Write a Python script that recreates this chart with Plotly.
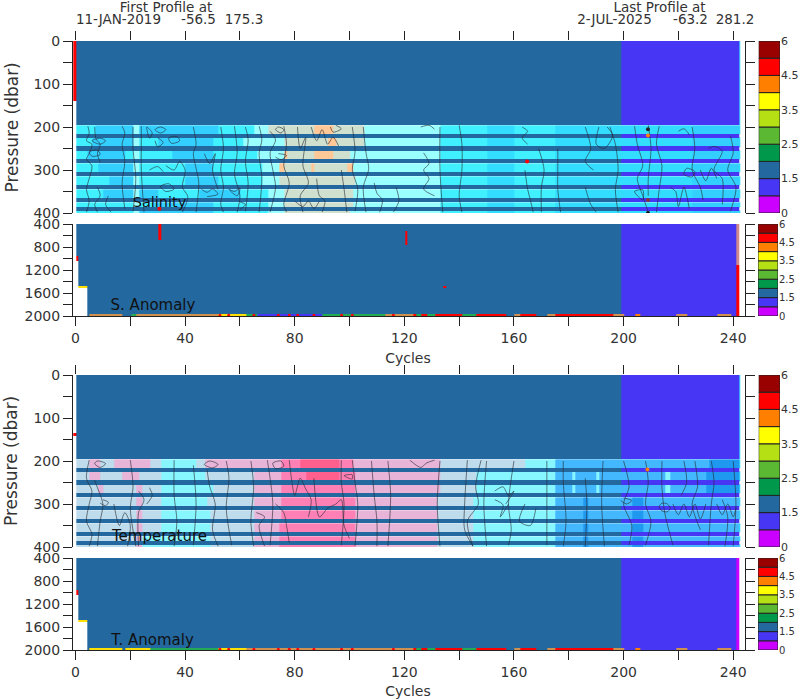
import numpy as np
import plotly.graph_objects as go

# ---------- data ----------
SCALE_COLORS = ["#cc00ff", "#4836f5", "#23689f", "#00994c", "#5ab832",
                "#b4e014", "#ffff00", "#ff8000", "#ff0000", "#990000"]
SCALE_LABELS = ["0", "1.5", "2.5", "3.5", "4.5", "6"]
X_TICKS = list(range(0, 241, 20))
X_LABELS = [str(v) if v % 40 == 0 else "" for v in X_TICKS]

FIELD_COLORS = {
    "B": "#23689f", "I": "#4836f5", "R": "#ff0000", "K": "#222222", "O": "#ff8000",
    "Y": "#ffe000", "G": "#22aa55", "T": "#d09050", "M": "#cc00ff", "W": "#d08a8a",
    "e": "#40f0ff", "a": "#33d0ff", "q": "#33ddff", "v": "#99ffff", "s": "#cfe0cf", "k": "#ffc896",
    "p": "#bedcec", "l": "#e8b4d8", "h": "#ff80b4", "d": "#ff5f8c", "c": "#88f6ff",
    "z": "#44b8ff", "b": "#1f98f0",
}

BAND_EDGES = [196, 216, 224, 246, 254, 276, 284, 306, 314, 336, 344, 366, 374, 386, 394, 400]
STRIPE_PRESSURES = [220, 250, 280, 310, 340, 370, 390]

SAL_RIGHT = [(133, "v"), (150, "e"), (160, "q"), (175, "e"), (199, "q"), (225, "q"), (243, "a")]
SAL_BANDS = [
    [(7, "e"), (21, "a"), (23, "v"), (52, "a"), (65, "e"), (70, "v"), (87, "s"), (94, "k"), (105, "s"), (118, "v")] + SAL_RIGHT,
    [(6, "e"), (21, "a"), (23, "v"), (30, "e"), (50, "a"), (61, "e"), (76, "v"), (92, "s"), (95, "k"), (105, "s"), (118, "v")] + SAL_RIGHT,
    [(4, "e"), (18, "a"), (21, "e"), (23, "v"), (35, "e"), (50, "a"), (66, "e"), (76, "v"), (77, "k"), (87, "s"), (94, "k"), (100, "s"), (118, "v")] + SAL_RIGHT,
    [(8, "e"), (21, "a"), (23, "v"), (40, "e"), (50, "a"), (68, "e"), (74, "v"), (76, "k"), (86, "s"), (87, "k"), (99, "s"), (101, "k"), (118, "v")] + SAL_RIGHT,
    [(12, "e"), (21, "a"), (23, "v"), (40, "e"), (52, "a"), (68, "e"), (74, "v"), (102, "s"), (118, "v")] + SAL_RIGHT,
    [(10, "e"), (21, "a"), (23, "v"), (30, "a"), (45, "e"), (60, "a"), (70, "e"), (76, "v"), (101, "s"), (118, "v")] + SAL_RIGHT,
    [(21, "e"), (23, "v"), (28, "e"), (50, "a"), (70, "e"), (76, "v"), (101, "s"), (118, "v")] + SAL_RIGHT,
    [(21, "e"), (23, "v"), (50, "a"), (70, "e"), (76, "v"), (100, "s"), (118, "v")] + SAL_RIGHT,
]

TMP_RIGHT_A = [(133, "l"), (146, "p"), (164, "p"), (175, "c"), (199, "z"), (231, "z"), (243, "b")]
TMP_RIGHT_B = [(133, "l"), (146, "p"), (175, "c"), (181, "z"), (182, "c"), (190, "z"), (191, "c"), (199, "z"), (215, "z"), (217, "c"), (230, "z"), (243, "b")]
TMP_RIGHT_C = [(132, "l"), (145, "p"), (175, "c"), (185, "z"), (187, "b"), (199, "z"), (203, "z"), (207, "b"), (243, "z")]
TMP_BANDS = [
    [(5, "p"), (9, "l"), (14, "p"), (27, "l"), (31, "p"), (44, "c"), (47, "p"), (75, "l"), (82, "h"), (96, "d"), (101, "h"), (118, "l")] + TMP_RIGHT_A,
    [(5, "p"), (9, "l"), (17, "p"), (23, "l"), (31, "p"), (47, "c"), (65, "p"), (75, "l"), (84, "h"), (96, "d"), (102, "h"), (118, "l")] + TMP_RIGHT_B,
    [(8, "p"), (10, "l"), (22, "p"), (24, "l"), (31, "p"), (50, "c"), (65, "p"), (75, "l"), (102, "h"), (118, "l")] + TMP_RIGHT_B,
    [(22, "p"), (24, "l"), (31, "p"), (48, "c"), (65, "p"), (75, "l"), (102, "h"), (118, "l")] + TMP_RIGHT_C,
    [(22, "p"), (24, "l"), (31, "p"), (49, "c"), (65, "p"), (75, "l"), (102, "h"), (118, "l")] + TMP_RIGHT_C,
    [(22, "p"), (24, "l"), (31, "p"), (49, "c"), (65, "p"), (74, "l"), (102, "h"), (118, "l")] + TMP_RIGHT_C,
    [(22, "p"), (24, "l"), (31, "c"), (49, "c"), (65, "p"), (74, "l"), (102, "h"), (118, "l")] + TMP_RIGHT_C,
    [(22, "p"), (24, "l"), (30, "c"), (49, "c"), (65, "p"), (74, "l"), (102, "h"), (118, "l")] + TMP_RIGHT_C,
]

SAL_CONTOURS = [
    [(4.5, 198), (5, 215), (4, 232), (6, 240), (5, 262), (4, 275), (6, 290), (5, 320), (4, 345), (5, 372), (4, 398)],
    [(7, 200), (7.5, 228), (9, 240), (8, 262), (9, 282)],
    [(8, 340), (9, 360), (7, 380), (8, 398)],
    [(6, 232), (9, 226), (11, 232), (9, 240), (6, 232)],
    [(5, 258), (8, 254), (9, 264), (6, 268), (5, 258)],
    [(12, 360), (11, 380), (13, 398)],
    [(17, 198), (18, 214), (17, 240), (18, 280), (17, 330), (18, 390)],
    [(21, 200), (21, 250), (22, 320), (21, 396)],
    [(24, 198), (24, 250), (24, 300), (25, 398)],
    [(26, 200), (28, 214), (27, 226), (26, 200)],
    [(30, 225), (32, 236), (30, 246), (29, 232)],
    [(31, 200), (33, 206), (31, 214), (29, 206), (31, 200)],
    [(27, 300), (30, 292), (32, 304)],
    [(33, 290), (36, 300), (38, 280), (40, 300), (39, 340), (41, 362), (39, 398)],
    [(34, 226), (37, 222), (38, 232), (35, 238), (34, 226)],
    [(31, 338), (34, 332), (36, 344), (33, 350), (31, 338)],
    [(43, 200), (44, 240), (43, 262), (44, 296), (45, 330), (44, 398)],
    [(47, 262), (49, 285), (51, 262), (50, 300), (52, 345)],
    [(46, 345), (48, 352), (50, 344), (52, 356), (48, 362)],
    [(53, 200), (54, 250), (53, 300), (54, 340), (53, 380), (54, 398)],
    [(56, 345), (58, 350), (60, 342), (59, 360), (56, 345)],
    [(58, 198), (59, 260), (58, 310), (60, 360), (59, 398)],
    [(62, 200), (63, 230), (62, 280), (63, 330), (62, 396)],
    [(60, 374), (62, 380), (60, 392)],
    [(67, 198), (68, 230), (67, 260), (68, 320), (67, 398)],
    [(71, 210), (73, 230), (71, 260), (72, 300), (73, 340), (71, 398)],
    [(76, 198), (77, 240), (76, 290), (78, 330), (76, 380), (77, 398)],
    [(74, 200), (76, 206), (75, 214), (73, 206), (74, 200)],
    [(74, 262), (77, 266), (75, 276), (73, 270)],
    [(81, 200), (82, 250), (84, 224), (83, 290), (85, 330), (82, 360), (83, 398)],
    [(86, 200), (88, 232), (90, 206), (92, 240), (94, 224), (96, 244)],
    [(93, 200), (94, 212), (97, 204), (95, 196)],
    [(88, 320), (89, 360), (91, 372), (90, 398)],
    [(80, 372), (83, 385), (85, 372), (87, 390), (89, 372)],
    [(97, 300), (98, 344), (99, 398)],
    [(101, 200), (102, 258), (101, 300), (103, 344), (102, 396)],
    [(105, 200), (106, 260), (107, 298), (105, 340), (106, 398)],
    [(109, 330), (110, 354), (112, 370), (111, 398)],
    [(117, 340), (118, 372), (116, 398)],
    [(126, 200), (129, 196), (131, 205)],
    [(127, 260), (129, 285), (127, 300), (129, 320), (127, 344), (131, 360)],
    [(133, 200), (133, 300), (134, 398)],
    [(140, 196), (141, 240), (141, 300), (140, 360), (141, 398)],
    [(163, 200), (165, 210), (163, 225), (165, 240)],
    [(164, 300), (165, 345), (166, 370), (167, 398)],
    [(169, 250), (171, 300), (170, 340), (170, 398)],
    [(176, 250), (176, 300), (176, 345), (177, 398)],
    [(186, 340), (188, 380), (190, 398)],
    [(186, 200), (188, 250), (186, 280), (189, 300)],
    [(191, 200), (190, 240), (193, 250), (196, 220), (194, 200)],
    [(195, 200), (197, 240), (198, 300), (197, 345), (198, 398)],
    [(204, 198), (205, 240), (207, 290), (205, 320), (207, 360), (209, 398)],
    [(204, 350), (207, 346), (207, 370), (204, 350)],
    [(209, 196), (210, 250), (209, 320), (209, 360)],
    [(213, 198), (212, 240), (214, 290), (213, 345), (212, 398)],
    [(217, 340), (219, 350), (220, 385), (222, 340), (224, 390)],
    [(225, 200), (226, 250), (225, 300), (228, 340), (229, 370)],
    [(220, 210), (222, 204), (224, 218)],
    [(223, 296), (226, 304), (225, 316), (222, 310), (223, 296)],
    [(231, 250), (233, 245), (236, 256), (233, 300), (236, 320), (236, 380)],
    [(228, 300), (230, 325), (232, 296), (234, 320)],
    [(239, 220), (240, 260), (238, 300), (241, 340), (239, 396)],
]

TMP_CONTOURS = [
    [(5, 198), (4, 240), (6, 270), (5, 300), (4, 340), (6, 370), (5, 398)],
    [(7, 245), (8, 262), (10, 300), (9, 340), (8, 398)],
    [(8, 200), (11, 206), (9, 215), (7, 206), (8, 200)],
    [(10, 290), (12, 296), (11, 304), (9, 298)],
    [(14, 300), (16, 350), (18, 320), (20, 350), (19, 398)],
    [(20, 198), (21, 260), (20, 310), (22, 398)],
    [(23, 270), (25, 290), (23, 320), (23, 398)],
    [(27, 262), (28, 280), (26, 300)],
    [(36, 198), (36, 280), (37, 340), (36, 398)],
    [(43, 210), (44, 300), (43, 396)],
    [(48, 220), (49, 260), (51, 300), (50, 360), (52, 398)],
    [(49, 200), (52, 208), (50, 216), (47, 208), (49, 200)],
    [(55, 200), (56, 240), (55, 310), (57, 396)],
    [(64, 200), (65, 260), (64, 340), (65, 398)],
    [(66, 320), (69, 330), (67, 350), (69, 398)],
    [(70, 198), (71, 240), (72, 300), (71, 396)],
    [(73, 300), (76, 320), (77, 350), (78, 390)],
    [(72, 205), (75, 200), (76, 212), (73, 218), (72, 205)],
    [(78, 198), (79, 250), (80, 280), (82, 240), (84, 265), (86, 290), (85, 330)],
    [(87, 240), (89, 330), (92, 310), (95, 300), (97, 290), (98, 350), (100, 380)],
    [(97, 198), (97, 250), (98, 300), (97, 396)],
    [(101, 198), (102, 250), (103, 300), (102, 398)],
    [(98, 234), (101, 232), (101, 242), (98, 234)],
    [(108, 200), (109, 280), (110, 340), (110, 398)],
    [(114, 200), (115, 280), (114, 398)],
    [(122, 198), (126, 215), (128, 205), (131, 198)],
    [(133, 200), (132, 300), (133, 398)],
    [(143, 198), (142, 300), (142, 360), (145, 398)],
    [(148, 198), (146, 260), (147, 300), (143, 340), (145, 398)],
    [(150, 200), (149, 300), (150, 398)],
    [(153, 270), (156, 260), (158, 280), (160, 270), (157, 300)],
    [(160, 200), (158, 300), (159, 360), (158, 396)],
    [(164, 300), (162, 340), (166, 350), (168, 310)],
    [(153, 290), (156, 302), (155, 330), (158, 300)],
    [(172, 200), (172, 270), (172, 300), (172, 396)],
    [(178, 200), (178, 250), (179, 340), (178, 398)],
    [(186, 240), (186.6, 300), (186, 398)],
    [(192.5, 200), (192, 300), (193, 398)],
    [(200, 200), (202, 260), (200, 300), (203, 350), (202, 396)],
    [(200, 286), (203, 292), (201, 300), (199, 292)],
    [(208, 200), (209, 250), (208, 300), (210, 340), (208, 396)],
    [(214, 200), (214, 262), (215, 320), (218, 396)],
    [(214, 298), (216, 300), (217, 310), (216, 318), (214, 316), (213, 306), (214, 298)],
    [(218, 300), (220, 325), (222, 300), (224, 330), (226, 300), (228, 335), (230, 300)],
    [(222, 200), (223, 250), (221, 280)],
    [(226, 200), (227, 260), (225, 300), (228, 360)],
    [(232, 200), (233, 250), (232, 300), (231, 396)],
    [(234, 300), (236, 325), (238, 300), (240, 330), (241, 310)],
    [(236, 290), (238, 330), (237, 398)],
    [(240, 200), (241, 300), (240, 398)],
]

SAL_DOTS_X = [30.6, 164.8, 208.9, 208.9, 208.9, 208.9]
SAL_DOTS_Y = [390, 280, 205, 220, 370, 400]
SAL_DOTS_C = ["#ff0000", "#ff0000", "#222222", "#ff8000", "#883333", "#111111"]
TMP_DOTS_X = [208.7]
TMP_DOTS_Y = [220]
TMP_DOTS_C = ["#ff8000"]

BOTTOM_LEFT_S = [(5, "B"), (17, "T"), (20, "B"), (22, "G"), (52, "T"), (62, "Y"), (66, "G"), (90, "I"), (113, "G")]
BOTTOM_LEFT_T = [(5, "B"), (17, "Y"), (18, "B"), (27, "Y"), (52, "G"), (62, "Y"), (90, "T"), (113, "T")]
BOTTOM_RIGHT = [(122.7, "T"), (124.5, "R"), (126, "G"), (128, "R"), (131, "G"), (135.4, "R"), (141, "R"), (146.4, "G"),
                (150, "R"), (157, "R"), (160, "B"), (162, "T"), (165, "R"), (168, "R"), (172, "B"), (175, "T"),
                (184, "R"), (196, "R"), (200, "T"), (204, "I"), (206, "O"), (219, "I"), (223, "T"), (234, "I"), (239.4, "T"), (243, "I")]
BOTTOM_DOTS = [52.7, 55.9, 65.1, 74, 78, 81.1, 87, 97.1, 101, 116]

COL_EDGES = np.append(np.arange(0, 243) - 0.8, [242.2, 242.6])
ANOM_EDGES = list(range(400, 1961, 40)) + [1972, 2000]

# ---------- build class grids from those lists ----------
NAMES = list(FIELD_COLORS)
IDX = {n: i for i, n in enumerate(NAMES)}
N = len(NAMES)
CS = []
for i, n in enumerate(NAMES):
    CS += [[i / N, FIELD_COLORS[n]], [(i + 1) / N, FIELD_COLORS[n]]]
NCOL = len(COL_EDGES) - 1


def expand(runs):
    out, j = [], 0
    for k in range(NCOL):
        c = k - 0.3
        while j < len(runs) - 1 and c > runs[j][0]:
            j += 1
        out.append(IDX[runs[j][1]])
    return out


def hm(z, x, y, xa, ya):
    return go.Heatmap(z=z, x=x, y=y, colorscale=CS, zmin=0, zmax=N, showscale=False,
                      xaxis=xa, yaxis=ya, hoverinfo="skip")


def shifted(grid):
    return [[None if v is None else v + 0.5 for v in row] for row in grid]


def band_grid(bands, sliver):
    rows, edges = [], [196]
    for i, runs in enumerate(bands):
        r = expand(runs)
        r[0] = None
        r[243] = IDX[sliver]
        rows.append(r)
        edges.append(BAND_EDGES[2 * i + 1])
        if i < len(bands) - 1:
            rows.append([None] * NCOL)
            edges.append(BAND_EDGES[2 * i + 2])
    return shifted(rows), edges


def top_grid(red_from, red_to, sliver):
    base = [None] + [IDX["B"]] * 199 + [IDX["I"]] * 43 + [IDX[sliver]]
    stripe = [None] + [IDX["B"]] * 199 + [IDX["I"]] * 43 + [None]
    red = list(base)
    red[0] = IDX["R"]
    rows = [list(base), red, list(base)] if red_from > 0 else [red, list(base)]
    edges = [0, red_from, red_to, 196] if red_from > 0 else [0, red_to, 196]
    for p in STRIPE_PRESSURES:
        rows.append([None] * NCOL)
        edges.append(p - 4.8)
        rows.append(list(stripe))
        edges.append(p + 4.8)
    return shifted(rows), edges


def anom_grid(bottom_runs, right_top, right_low):
    rows = []
    n = len(ANOM_EDGES) - 1
    for i in range(n):
        a = ANOM_EDGES[i]
        if i == n - 1:
            r = expand(bottom_runs)
            r[:5] = [None] * 5
            r[242] = IDX[right_low]
            r[243] = None
        else:
            r = [None] + [IDX["B"]] * 199 + [IDX["I"]] * 42 + [IDX[right_top if a < 1100 else right_low]] + [None]
            if a >= 1040:
                r[1] = None
            if 960 <= a < 1040:
                r[1] = IDX["R"]
            if a >= 1520:
                r[2] = r[3] = r[4] = None
            if 1480 <= a < 1520:
                r[2] = r[3] = r[4] = IDX["Y"]
        rows.append(r)
    return rows


def add_red(rows, col, p0, p1):
    for i in range(len(ANOM_EDGES) - 1):
        if p0 <= ANOM_EDGES[i] < p1:
            rows[i][col] = IDX["R"]


def flat(lines):
    xs, ys = [], []
    for ln in lines:
        xs += [p[0] for p in ln] + [None]
        ys += [p[1] for p in ln] + [None]
    return xs, ys


fig = go.Figure()


def main_panel(n, bands, contours, dx, dy, dc, red_from, red_to, sliver):
    xa, ya = f"x{n}", f"y{n}"
    z, e = band_grid(bands, sliver)
    fig.add_trace(hm(z, COL_EDGES, e, xa, ya))
    cx, cy = flat(contours)
    fig.add_trace(go.Scatter(x=cx, y=cy, mode="lines", xaxis=xa, yaxis=ya, hoverinfo="skip",
                             line=dict(color="rgba(35,40,50,0.6)", width=1, shape="spline", smoothing=0.8)))
    z, e = top_grid(red_from, red_to, sliver)
    fig.add_trace(hm(z, COL_EDGES, e, xa, ya))
    fig.add_trace(go.Scatter(x=dx, y=dy, mode="markers", xaxis=xa, yaxis=ya, hoverinfo="skip",
                             marker=dict(color=dc, size=4)))


def anom_panel(n, bottom, right_top, right_low, reds):
    xa, ya = f"x{n}", f"y{n}"
    rows = anom_grid(bottom, right_top, right_low)
    for r in reds:
        add_red(rows, *r)
    fig.add_trace(hm(shifted(rows), COL_EDGES, ANOM_EDGES, xa, ya))
    fig.add_trace(go.Scatter(x=BOTTOM_DOTS, y=[1988] * len(BOTTOM_DOTS), mode="markers", xaxis=xa, yaxis=ya,
                             hoverinfo="skip", marker=dict(color="#ff0000", size=3)))


main_panel("", SAL_BANDS, SAL_CONTOURS, SAL_DOTS_X, SAL_DOTS_Y, SAL_DOTS_C, 0, 140, "q")
anom_panel(2, BOTTOM_LEFT_S + BOTTOM_RIGHT, "W", "R", [(31, 400, 660), (121, 490, 730), (135, 1480, 1520)])
main_panel(3, TMP_BANDS, TMP_CONTOURS, TMP_DOTS_X, TMP_DOTS_Y, TMP_DOTS_C, 135, 142, "q")
anom_panel(4, BOTTOM_LEFT_T + BOTTOM_RIGHT, "M", "M", [])

FONT = "DejaVu Sans"
INK = "#333333"
W, H = 800, 700


def xdom(a, b):
    return [a / W, b / W]


def ydom(t, b):
    return [1 - b / H, 1 - t / H]


panels = [(1, 41, 213, 0, 400, 50, True), (2, 224, 316, 400, 2000, 200, False),
          (3, 375, 547, 0, 400, 50, True), (4, 558, 650, 400, 2000, 200, False)]
for n, t, b, p0, p1, step, is_main in panels:
    sx = "" if n == 1 else str(n)
    vals = list(range(p0, p1 + 1, step))
    texts = [str(v) if v % (2 * step) == 0 else "" for v in vals]
    fig.layout[f"xaxis{sx}"] = dict(domain=xdom(73, 745), range=[-0.91, 244.3], anchor=f"y{sx}", automargin=False,
                                    side="top" if is_main else "bottom", showgrid=False, zeroline=False,
                                    showline=not is_main, linecolor="#222222", linewidth=1,
                                    ticks="outside", ticklen=9, tickcolor="#222222", tickwidth=1,
                                    tickvals=X_TICKS, ticktext=X_LABELS, showticklabels=not is_main,
                                    tickfont=dict(family=FONT, size=14, color=INK))
    fig.layout[f"yaxis{sx}"] = dict(domain=ydom(t, b), range=[p1, p0], anchor=f"x{sx}", showgrid=False, automargin=False,
                                    zeroline=False, showline=True, mirror="ticks", linecolor="#222222", linewidth=1,
                                    ticks="outside", ticklen=9, tickcolor="#222222", tickwidth=1,
                                    tickvals=vals, ticktext=texts, tickfont=dict(family=FONT, size=14, color=INK))
    cn = n + 4
    fig.add_trace(go.Bar(x=[0] * 10, y=[1] * 10, base=list(range(10)), width=1, xaxis=f"x{cn}", yaxis=f"y{cn}",
                         marker=dict(color=SCALE_COLORS, line=dict(color="#222222", width=1)), hoverinfo="skip"))
    cb = (758.7, 780) if is_main else (758, 778)
    fig.layout[f"xaxis{cn}"] = dict(domain=xdom(*cb), range=[-0.5, 0.5], anchor=f"y{cn}", visible=False, automargin=False)
    fig.layout[f"yaxis{cn}"] = dict(domain=ydom(t, b), range=[0, 10], anchor=f"x{cn}", side="right", showgrid=False,
                                    automargin=False, zeroline=False, showline=False, ticks="", tickvals=[0, 2, 4, 6, 8, 10],
                                    ticktext=SCALE_LABELS,
                                    tickfont=dict(family=FONT, size=11 if is_main else 10, color=INK))

# page-wide hidden axes that carry the free-standing labels
LABELS = [
    ("First Profile at", 166, 8.5, 13.5, INK),
    ("11-JAN-2019", 118.5, 21, 13.5, INK),
    ("-56.5", 198.5, 21, 13.5, INK),
    ("175.3", 244, 21, 13.5, INK),
    ("Last Profile at", 659.5, 8.5, 13.5, INK),
    ("2-JUL-2025", 614.5, 21, 13.5, INK),
    ("-63.2", 690.5, 21, 13.5, INK),
    ("281.2", 735, 21, 13.5, INK),
    ("Cycles", 408, 359, 14, INK),
    ("Cycles", 408, 692, 14, INK),
    ("Salinity", 159.5, 203, 14.5, "#111111"),
    ("S. Anomaly", 153, 306, 15, "#111111"),
    ("Temperature", 159.5, 537, 15, "#111111"),
    ("T. Anomaly", 152.5, 641, 15, "#111111"),
]
for text, x, y, size, color in LABELS:
    fig.add_trace(go.Scatter(x=[x], y=[y], mode="text", text=[text], textposition="middle center", cliponaxis=False,
                             textfont=dict(family=FONT, size=size, color=color), xaxis="x9", yaxis="y9", hoverinfo="skip"))
fig.layout["xaxis9"] = dict(domain=[0, 1], range=[0, W], anchor="y9", visible=False, fixedrange=True, automargin=False)
fig.layout["yaxis9"] = dict(domain=[0, 1], range=[H, 0], anchor="x9", visible=False, fixedrange=True, automargin=False)

for cy in (127.5, 461):
    fig.add_annotation(text="Pressure (dbar)", x=11 / W, y=1 - cy / H, xref="paper", yref="paper", showarrow=False,
                       font=dict(family=FONT, size=17, color=INK), textangle=-90, xanchor="center", yanchor="middle")

fig.update_layout(width=W, height=H, autosize=False, margin=dict(l=0, r=0, t=0, b=0, pad=0), showlegend=False,
                  paper_bgcolor="white", plot_bgcolor="rgba(0,0,0,0)")
fig.write_html("out.html", config={"displayModeBar": False}, post_script="document.body.style.margin='0';")
